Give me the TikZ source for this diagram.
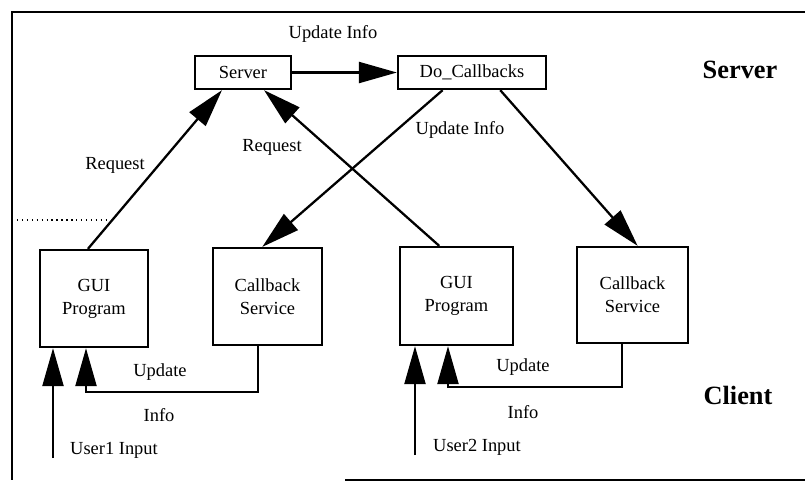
\documentclass[tikz,border=0pt]{standalone}
\usepackage{fontspec}
\setmainfont{Liberation Serif}
\usetikzlibrary{arrows.meta}

\tikzstyle{box} = [draw, line width=1.3pt, fill=white, inner sep=2pt, align=center,
    font=\fontsize{10.5}{13}\selectfont]
\tikzstyle{lab} = [font=\fontsize{10.5}{13}\selectfont, inner sep=1pt]
\tikzstyle{side} = [font=\fontsize{15}{18}\selectfont\bfseries, inner sep=1pt]
\tikzstyle{flow} = [line width=1.3pt, -{Triangle[length=0.76cm, width=0.42cm]}]

\begin{document}
\begin{tikzpicture}[x=0.02cm, y=-0.02cm]
\useasboundingbox (0,0) rectangle (805,485);
% frame
\draw[line width=1pt] (805,12) -- (12,12) -- (12,480);
\draw[line width=1pt] (345,480) -- (805,480);
\draw[dotted, line width=0.8pt] (17,220) -- (108,220);

% server side
\node[box, minimum width=1.92cm, minimum height=0.66cm] (server) at (243,72.5) {Server};
\node[box, minimum width=2.96cm, minimum height=0.66cm] (docb) at (472,72.5) {Do\_Callbacks};
\node[side] (srvlab) at (740,70) {Server};

% client side
\node[box, minimum width=2.16cm, minimum height=1.94cm] (gui1) at (94,298.5) {GUI\\Program};
\node[box, minimum width=2.18cm, minimum height=1.94cm] (cbs1) at (267.5,296.5) {Callback\\Service};
\node[box, minimum width=2.26cm, minimum height=1.96cm] (gui2) at (456.5,296) {GUI\\Program};
\node[box, minimum width=2.22cm, minimum height=1.92cm] (cbs2) at (632.5,295) {Callback\\Service};
\node[side] (clilab) at (738,395) {Client};

% requests and callbacks
\draw[flow] (server.east) -- (docb.west);
\draw[flow] (gui1.97) -- (server.220);
\draw[flow] (gui2.109) -- (server.320);
\draw[flow] (docb.211) -- (cbs1.96);
\draw[flow] (docb.328) -- (cbs2.84);

\node[lab] (upd0) at (333,34) {Update Info};
\node[lab] (req1) at (115,165) {Request};
\node[lab] (req2) at (272,147) {Request};
\node[lab] (upd1) at (460,130) {Update Info};

% user input and update info
\coordinate (in1) at (53,458);
\coordinate (fb1) at (86,392);
\draw[flow] (in1) -- (in1 |- gui1.south);
\draw[flow] (cbs1.259) |- (fb1) -- (fb1 |- gui1.south);
\node[lab] (upd2) at (160,372) {Update};
\node[lab] (inf1) at (159,415) {Info};
\node[lab] (usr1) at (114,450) {User1 Input};

\coordinate (in2) at (415,455);
\coordinate (fb2) at (448,387);
\draw[flow] (in2) -- (in2 |- gui2.south);
\draw[flow] (cbs2.258) |- (fb2) -- (fb2 |- gui2.south);
\node[lab] (upd3) at (523,367) {Update};
\node[lab] (inf2) at (523,412) {Info};
\node[lab] (usr2) at (477,447) {User2 Input};
\end{tikzpicture}
\end{document}
